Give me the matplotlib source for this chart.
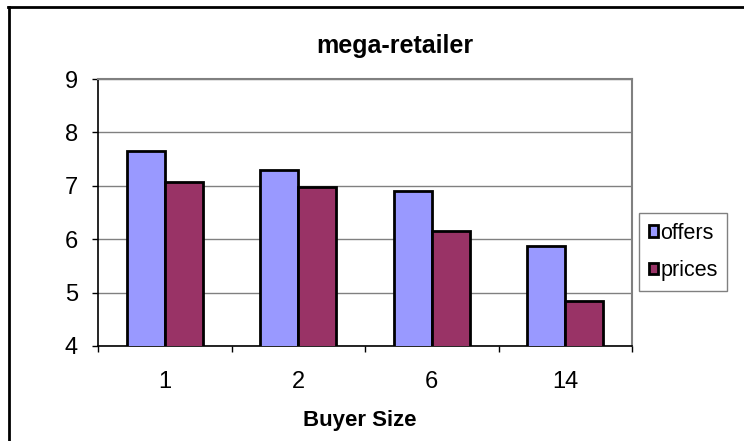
import numpy as np
import matplotlib.pyplot as plt
from matplotlib.patches import Patch
from matplotlib.lines import Line2D

plt.rcParams['font.family'] = ['Liberation Sans', 'DejaVu Sans']

buyer_sizes = ['1', '2', '6', '14']
offers = [7.65, 7.30, 6.91, 5.87]
prices = [7.08, 6.97, 6.16, 4.85]

W, H = 744, 441
fig = plt.figure(figsize=(W / 100, H / 100), dpi=100)
ax = fig.add_axes([98 / W, 1 - 346 / H, (632 - 98) / W, (346 - 79) / H])

x = np.arange(len(buyer_sizes))
w = 1 / 3.5
ax.bar(x - w / 2, offers, w, color='#9999FF', edgecolor='black', linewidth=2, zorder=3)
ax.bar(x + w / 2, prices, w, color='#993366', edgecolor='black', linewidth=2, zorder=3)

ax.set_xlim(-0.5, len(buyer_sizes) - 0.5)
ax.set_ylim(4, 9)
ax.set_yticks(range(4, 10))
ax.yaxis.grid(True, color='#808080', linewidth=1.0, zorder=0)

# category boundaries carry the tick marks, centres carry the labels
ax.set_xticks(np.arange(len(buyer_sizes) + 1) - 0.5)
ax.set_xticklabels([])
ax.set_xticks(x, minor=True)
ax.set_xticklabels(buyer_sizes, minor=True)
ax.tick_params(axis='x', which='major', direction='out', length=4.5, width=1, color='black')
ax.tick_params(axis='x', which='minor', length=0, pad=18, labelsize=17)
ax.tick_params(axis='y', direction='out', length=4.5, width=1, pad=10, labelsize=17)

for side in ['top', 'right']:
    ax.spines[side].set_color('#808080')
    ax.spines[side].set_linewidth(1.5)
for side in ['left', 'bottom']:
    ax.spines[side].set_color('black')
    ax.spines[side].set_linewidth(1.2)

fig.text(395 / W, 1 - 53 / H, 'mega-retailer', fontsize=18, fontweight='bold',
         ha='center', va='baseline')
fig.text(360 / W, 1 - 426 / H, 'Buyer Size', fontsize=16, fontweight='bold',
         ha='center', va='baseline')

handles = [Patch(facecolor='#9999FF', edgecolor='black', linewidth=2),
           Patch(facecolor='#993366', edgecolor='black', linewidth=2)]
leg = fig.legend(handles, ['offers', 'prices'], loc='upper left',
                 bbox_to_anchor=(639 / W, 1 - 213 / H), bbox_transform=fig.transFigure,
                 fontsize=15.5, fancybox=False, edgecolor='#808080', framealpha=1,
                 handlelength=0.42, handleheight=0.42, handletextpad=0.12,
                 labelspacing=0.75, borderpad=0.45, borderaxespad=0)
leg.get_frame().set_linewidth(1.0)

# outer chart border (left and top edges)
fig.add_artist(Line2D([8.7 / W, 8.7 / W], [0, 1 - 6.7 / H], color='black', linewidth=2,
                      transform=fig.transFigure))
fig.add_artist(Line2D([7.7 / W, 1], [1 - 6.7 / H, 1 - 6.7 / H], color='black', linewidth=2,
                      transform=fig.transFigure))

fig.savefig('out.png', dpi=100)
